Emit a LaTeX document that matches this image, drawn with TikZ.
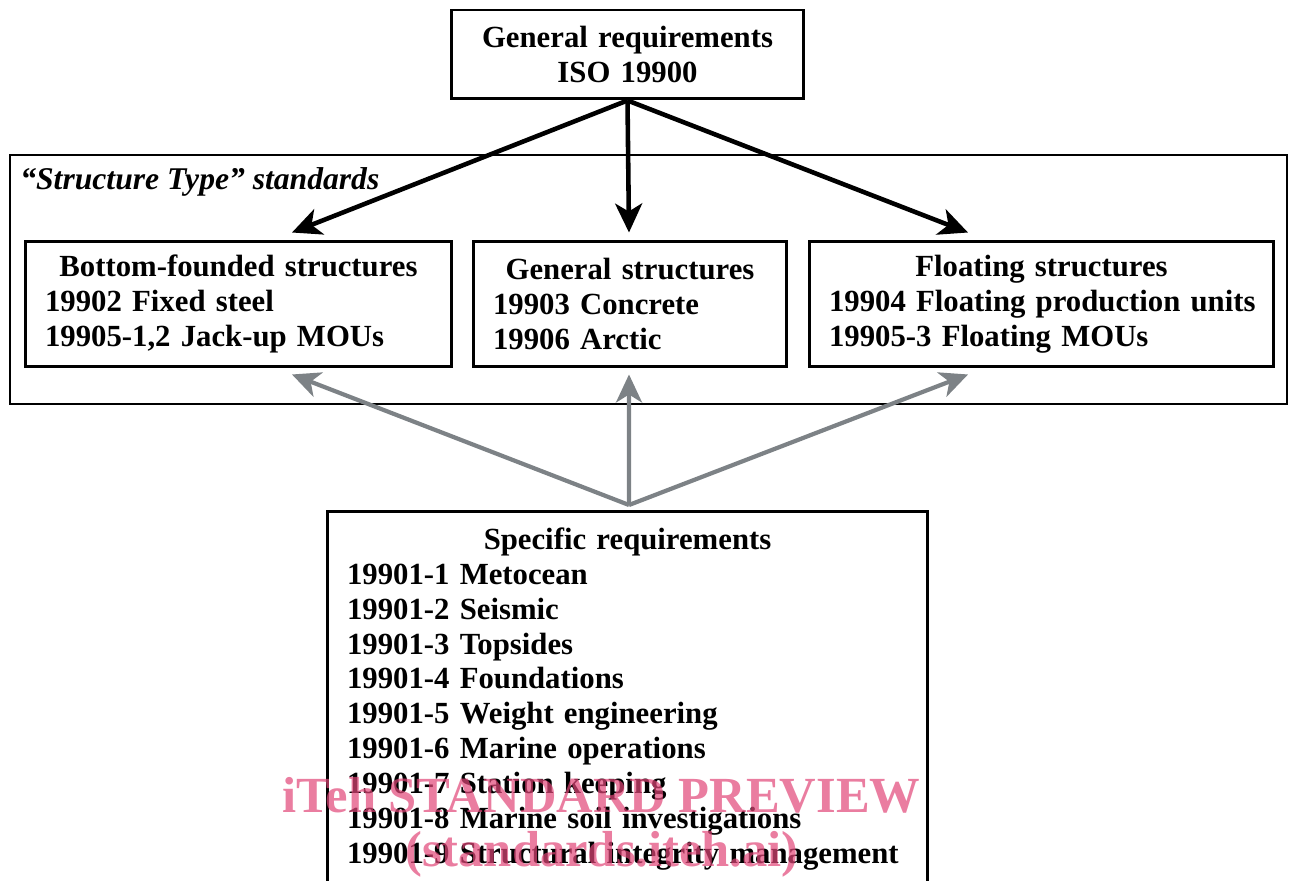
\documentclass[tikz,border=0pt]{standalone}
\usepackage{fontspec}
\setmainfont{Liberation Serif}
\usetikzlibrary{positioning,arrows.meta}
\definecolor{arrowgray}{RGB}{125,130,134}
\definecolor{wmpink}{RGB}{225,70,120}

\begin{document}
\begin{tikzpicture}[x=0.02cm,y=-0.02cm,
    box/.style = {draw, line width=1.7pt, inner sep=0pt, font=\fontsize{17.5}{19.9}\selectfont\bfseries},
    blk/.style = {line width=2.6pt, -{Stealth[length=0.58cm,width=0.54cm,inset=0.16cm]}},
    gry/.style = {draw=arrowgray, line width=2.4pt, -{Stealth[length=0.56cm,width=0.52cm,inset=0.16cm]}, arrowgray},
    wm/.style = {text=wmpink, text opacity=0.7, inner sep=0pt, font=\fontsize{28.8}{30}\selectfont\bfseries}]
        \useasboundingbox (0,0) rectangle (1292,881);
        \clip (0,0) rectangle (1292,881);
        \node[draw, line width=1.1pt, minimum width=25.54cm, minimum height=4.98cm] (st) at (648.5,279.5) {};
        \node[anchor=base west, inner sep=0pt, font=\fontsize{18}{19.9}\selectfont\bfseries\itshape] (stl) at (20,190) {``Structure Type'' standards};
        \node[box, text width=7.06cm, minimum height=1.78cm, align=center] (gen) at (627.5,54.5) {General requirements\\ISO 19900};
        \node[box, text width=7.74cm, minimum height=2.52cm, align=left, inner xsep=0.4cm] (bfs) at (238.5,304) {\makebox[\linewidth]{Bottom-founded structures}\\19902 Fixed steel\\19905-1,2 Jack-up MOUs};
        \node[box, text width=5.48cm, minimum height=2.52cm, align=left, inner xsep=0.4cm] (gst) at (630,304) {\makebox[\linewidth]{General structures}\\19903 Concrete\\19906 Arctic};
        \node[box, text width=8.5cm, minimum height=2.52cm, align=left, inner xsep=0.4cm] (fst) at (1041.5,304) {\makebox[\linewidth]{Floating structures}\\\mbox{19904 Floating production units}\\19905-3 Floating MOUs};
        \node[box, text width=11.22cm, align=left, inner xsep=0.4cm, inner ysep=0.32cm, anchor=north] (spec) at (627.5,510) {\makebox[\linewidth]{Specific requirements}\\19901-1 Metocean\\19901-2 Seismic\\19901-3 Topsides\\19901-4 Foundations\\19901-5 Weight engineering\\19901-6 Marine operations\\19901-7 Station keeping\\19901-8 Marine soil investigations\\\mbox{19901-9 Structural integrity management}\\\mbox{}};
        \draw[blk] (gen.south) -- ([xshift=1.07cm,yshift=0.14cm]bfs.north);
        \draw[blk] (gen.south) -- ([xshift=-0.02cm,yshift=0.14cm]gst.north);
        \draw[blk] (gen.south) -- ([xshift=-1.47cm,yshift=0.14cm]fst.north);
        \draw[gry] ([xshift=0.03cm,yshift=0.1cm]spec.north) -- ([xshift=1.07cm,yshift=-0.12cm]bfs.south);
        \draw[gry] ([xshift=0.03cm,yshift=0.1cm]spec.north) -- ([xshift=-0.02cm,yshift=-0.12cm]gst.south);
        \draw[gry] ([xshift=0.03cm,yshift=0.1cm]spec.north) -- ([xshift=-1.47cm,yshift=-0.12cm]fst.south);
        \node[wm, anchor=base] (wm1) at (601.5,812) {iTeh STANDARD PREVIEW};
        \node[wm, anchor=base] (wm2) at (602,866) {(standards.iteh.ai)};
\end{tikzpicture}
\end{document}
